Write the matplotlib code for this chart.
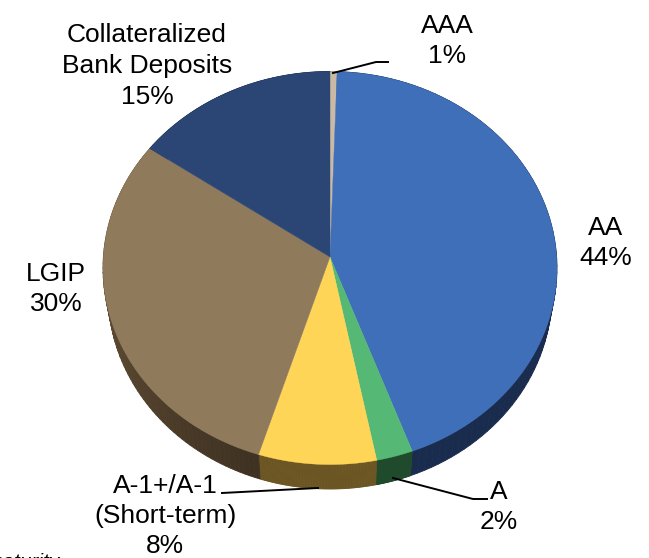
import numpy as np
import matplotlib
matplotlib.use("Agg")
from matplotlib import pyplot as plt
from matplotlib.colors import to_rgb

plt.rcParams['font.family'] = ['Liberation Sans', 'DejaVu Sans']

# clockwise from 12 o'clock
labels = ["AAA", "AA", "A", "A-1+/A-1", "LGIP", "Collateral"]
shares = [0.5, 43.6, 2.6, 8.4, 30.3, 14.6]
top_colors = ["#c9b9a5", "#3f6fb8", "#55b975", "#ffd557", "#8f7a5c", "#2b4674"]
side_colors = ["#5e5548", "#1a2c4e", "#1f4a2c", "#6b5522", "#3f3222", "#14233c"]

# pie geometry in pixels
cx, cy = 330, 268
rx, ry = 227, 196.5
apex_y = 257
low_cy, low_rx, low_ry = 293, 222, 196


def rim(theta, x0, y0, a, b):
    return x0 + a * np.sin(theta), y0 - b * np.cos(theta)


fig = plt.figure(figsize=(6.49, 5.58), dpi=100)
ax = fig.add_axes([0, 0, 1, 1])
ax.set_xlim(0, 649)
ax.set_ylim(558, 0)
ax.axis("off")

edges = np.radians(np.cumsum([0] + shares) * 3.6)

# side wall first, top face goes over it
for i in range(len(shares)):
    t = np.linspace(edges[i], edges[i + 1], 80)
    base = np.array(to_rgb(side_colors[i]))
    for t0, t1 in zip(t[:-1], t[1:]):
        # LGIP wall gets lighter towards the left
        k = 1.0
        if labels[i] == "LGIP":
            k = 1.0 + 0.55 * np.clip((t0 - np.radians(200)) / np.radians(70), 0, 1)
        x0, y0 = rim(np.array([t0, t1]), cx, cy, rx, ry)
        x1, y1 = rim(np.array([t1, t0]), cx, low_cy, low_rx, low_ry)
        c = np.clip(base * k, 0, 1)
        ax.fill(np.r_[x0, x1], np.r_[y0, y1], color=c, lw=0.6, zorder=2)

for i in range(len(shares)):
    t = np.linspace(edges[i], edges[i + 1], 200)
    x, y = rim(t, cx, cy, rx, ry)
    ax.fill(np.r_[cx, x], np.r_[apex_y, y], color=top_colors[i], lw=0.3, zorder=3)

fs = 19
ls = 1.36
ax.text(147, 66, "Collateralized\nBank Deposits\n15%", ha="center", va="center", fontsize=fs, linespacing=ls)
ax.text(447, 41, "AAA\n1%", ha="center", va="center", fontsize=fs, linespacing=ls)
ax.text(606, 243, "AA\n44%", ha="center", va="center", fontsize=fs, linespacing=ls)
ax.text(56, 289, "LGIP\n30%", ha="center", va="center", fontsize=fs, linespacing=ls)
ax.text(499, 507, "A\n2%", ha="center", va="center", fontsize=fs, linespacing=ls)
ax.text(165, 516, "A-1+/A-1\n(Short-term)\n8%", ha="center", va="center", fontsize=fs, linespacing=1.33)
ax.text(60, 568, "maturity", ha="right", va="baseline", fontsize=15, style="italic")

# leader lines
ax.plot([333, 376, 388], [73, 62, 62], color="k", lw=1.4, zorder=4)
ax.plot([393, 473, 487], [478, 499, 499], color="k", lw=1.4, zorder=4)
ax.plot([318, 222], [488, 493], color="k", lw=1.4, zorder=4)

fig.savefig("out.png", dpi=100)
